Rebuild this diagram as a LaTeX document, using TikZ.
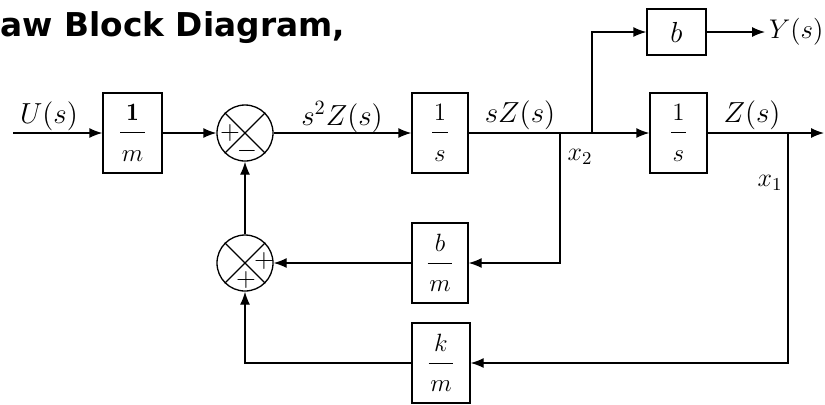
\RequirePackage{fix-cm}
\documentclass[tikz,border=0pt]{standalone}
\usepackage{fontspec}
\newfontfamily\titlefont{DejaVu Sans}
\usetikzlibrary{arrows.meta,calc}
\newcommand{\bfr}[2]{$\displaystyle\frac{\rule[-4.5pt]{0pt}{4.5pt}\kern0.8pt#1\kern0.8pt}{\rule{0pt}{13pt}\kern0.8pt#2\kern0.8pt}$}
\begin{document}
\begin{tikzpicture}[x=0.5pt,y=-0.5pt,line width=0.65pt,
  >={Latex[length=6.5pt,width=5pt]},
  blk/.style={draw,inner sep=0pt,minimum height=40pt,font=\fontsize{12.5}{15}\selectfont},
  sumnode/.style={circle,draw,minimum size=28pt,inner sep=0pt},
  lbl/.style={inner sep=0pt,font=\fontsize{14.5}{17}\selectfont},
  sgn/.style={inner sep=0pt,font=\fontsize{13}{15}\selectfont}]
\useasboundingbox (0,0) rectangle (825,404);
\node[anchor=base west,inner sep=0pt,font=\titlefont\bfseries\fontsize{16.4}{19}\selectfont] (title) at (0,36) {aw Block Diagram,};
% blocks
\node[blk,minimum width=29.5pt] (g1) at (132.5,133) {\bfr{\mathbf{1}}{m}};
\node[sumnode] (s1) at (245,133) {};
\node[blk,minimum width=28pt] (i1) at (440,133) {\bfr{1}{s}};
\node[blk,minimum width=28.5pt] (i2) at (678.5,133) {\bfr{1}{s}};
\node[blk,minimum width=29.5pt,minimum height=23pt,font=\fontsize{14.5}{17}\selectfont] (bb) at (676.5,32) {$b$};
\node[blk,minimum width=28pt] (bm) at (440,263) {\bfr{b}{m}};
\node[blk,minimum width=29pt] (km) at (441,363) {\bfr{k}{m}};
\node[sumnode] (s2) at (245,263) {};
\draw (s1.45) -- (s1.225) (s1.135) -- (s1.315);
\draw (s2.45) -- (s2.225) (s2.135) -- (s2.315);
\node[sgn] (p1) at ($(s1)+(-15,0)$) {$+$};
\node[sgn] (m1) at ($(s1)+(2,18)$) {$-$};
\node[sgn] (p2) at ($(s2)+(19,-2)$) {$+$};
\node[sgn] (p3) at ($(s2)+(1,17)$) {$+$};
% coordinates
\coordinate (in) at (13,133);
\coordinate (x2) at (560,133);
\coordinate (br) at (592,133);
\coordinate (x1) at (788,133);
\coordinate (zout) at (824,133);
\coordinate (yout) at (765,32);
% connectors
\draw[->] (in) -- (g1);
\draw[->] (g1) -- (s1);
\draw[->] (s1) -- (i1);
\draw (i1) -- (br);
\draw[->] (br) -- (i2);
\draw[->] (br) |- (bb);
\draw[->] (bb) -- (yout);
\draw[->] (i2) -- (zout);
\draw[->] (x2) |- (bm);
\draw[->] (bm) -- (s2);
\draw[->] (x1) |- (km);
\draw[->] (km) -| (s2);
\draw[->] (s2) -- (s1);
% labels
\node[lbl] (lu) at (49,116) {$U(s)$};
\node[lbl] (ls2) at (342,117) {$s^2Z(s)$};
\node[lbl] (lsz) at (520,115) {$sZ(s)$};
\node[lbl] (lz) at (752,115) {$Z(s)$};
\node[lbl,anchor=east,font=\fontsize{13.5}{16}\selectfont] (ly) at (824,32) {$Y(s)$};
\node[lbl,font=\fontsize{13}{15}\selectfont] (lx2) at (580,157) {$x_2$};
\node[lbl,font=\fontsize{13}{15}\selectfont] (lx1) at (770,183) {$x_1$};
\end{tikzpicture}
\end{document}
